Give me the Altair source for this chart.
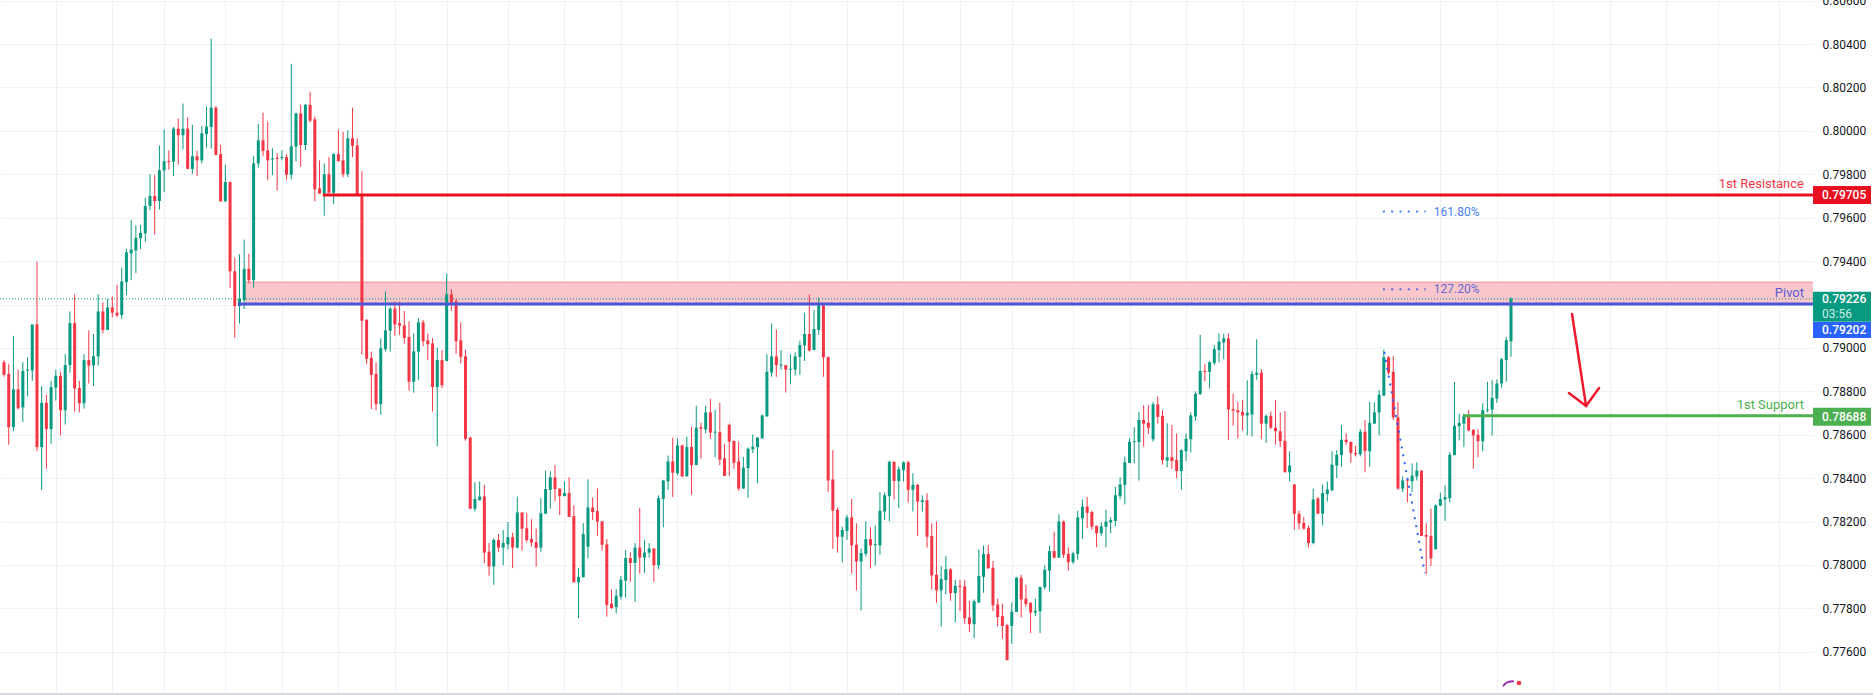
import altair as alt
import pandas as pd

# ---------------- candle data ----------------
open_ = [
0.78934,0.78880,0.78635,0.78809,0.78726,0.78896,0.78896,0.79108,0.78543,0.78747,
0.78626,0.78817,0.78871,0.78713,0.78921,0.79114,0.78815,0.78745,0.78944,0.78919,
0.78961,0.79168,0.79083,0.79187,0.79162,0.79152,0.79303,0.79436,0.79449,0.79505,
0.79528,0.79654,0.79700,0.79677,0.79818,0.79860,0.79858,0.80010,0.79980,0.80010,
0.79825,0.79883,0.79864,0.79985,0.80018,0.80107,0.79893,0.79675,0.79764,0.79353,
0.79193,0.79220,0.79364,0.79312,0.79850,0.79956,0.79910,0.79868,0.79875,0.79875,
0.79879,0.79798,0.79927,0.80080,0.79935,0.80120,0.80053,0.79735,0.79711,0.79800,
0.79715,0.79893,0.79864,0.79800,0.79966,0.79933,0.79700,0.79129,0.78954,0.78880,
0.78741,0.78994,0.79079,0.79181,0.79114,0.79104,0.79050,0.78844,0.78983,0.79118,
0.79035,0.79021,0.78820,0.78944,0.78940,0.79247,0.79214,0.79035,0.78961,0.78587,
0.78259,0.78298,0.78315,0.78061,0.77993,0.78115,0.78080,0.78095,0.78128,0.78080,
0.78242,0.78169,0.78119,0.78105,0.78080,0.78236,0.78346,0.78404,0.78352,0.78317,
0.78331,0.78225,0.77920,0.77943,0.78084,0.78265,0.78248,0.78201,0.78095,0.77822,
0.77806,0.77854,0.77928,0.78032,0.78009,0.78080,0.78034,0.78057,0.78076,0.77999,
0.78304,0.78385,0.78477,0.78423,0.78551,0.78408,0.78543,0.78460,0.78635,0.78624,
0.78703,0.78610,0.78612,0.78491,0.78645,0.78572,0.78477,0.78352,0.78446,0.78533,
0.78543,0.78583,0.78684,0.78886,0.78961,0.78919,0.78921,0.78900,0.78900,0.78959,
0.79011,0.79064,0.78990,0.79083,0.79196,0.78959,0.78394,0.78254,0.78130,0.78157,
0.78219,0.78093,0.78016,0.78051,0.78119,0.78092,0.78090,0.78246,0.78317,0.78475,
0.78387,0.78437,0.78473,0.78346,0.78369,0.78290,0.78298,0.78134,0.77955,0.77883,
0.77930,0.77980,0.77870,0.77904,0.77901,0.77758,0.77727,0.77827,0.77945,0.78051,
0.77987,0.77818,0.77764,0.77723,0.77719,0.77783,0.77941,0.77845,0.77825,0.77781,
0.77787,0.77897,0.77974,0.78064,0.78034,0.78200,0.78051,0.78013,0.78051,0.78215,
0.78269,0.78244,0.78180,0.78146,0.78176,0.78196,0.78203,0.78317,0.78369,0.78470,
0.78566,0.78566,0.78668,0.78655,0.78579,0.78740,0.78687,0.78481,0.78496,0.78483,
0.78433,0.78524,0.78579,0.78684,0.78786,0.78894,0.78890,0.78930,0.78990,0.79025,
0.79044,0.78718,0.78713,0.78705,0.78689,0.78693,0.78876,0.78886,0.78651,0.78687,
0.78632,0.78616,0.78572,0.78427,0.78371,0.78236,0.78194,0.78171,0.78101,0.78306,
0.78236,0.78327,0.78344,0.78458,0.78506,0.78577,0.78566,0.78516,0.78510,0.78614,
0.78524,0.78651,0.78703,0.78780,0.78957,0.78890,0.78680,0.78352,0.78392,0.78385,
0.78408,0.78435,0.78138,0.78134,0.78072,0.78273,0.78302,0.78308,0.78506,0.78639,
0.78651,0.78687,0.78622,0.78599,0.78570,0.78713,0.78716,0.78767,0.78836,0.78944,0.79031]

high = [
0.78944,0.78925,0.79056,0.78900,0.78934,0.78957,0.79108,0.79397,0.78824,0.78784,
0.78848,0.78900,0.78890,0.78971,0.79168,0.79247,0.78848,0.78971,0.79081,0.79064,
0.79247,0.79210,0.79226,0.79237,0.79291,0.79370,0.79457,0.79590,0.79565,0.79567,
0.79692,0.79800,0.79796,0.79933,0.80006,0.79910,0.80018,0.80057,0.80126,0.80062,
0.80028,0.79908,0.80022,0.80113,0.80425,0.80115,0.79935,0.79843,0.79767,0.79416,
0.79432,0.79499,0.79434,0.79883,0.80032,0.80084,0.80043,0.79920,0.79897,0.79910,
0.79893,0.80309,0.80084,0.80120,0.80124,0.80180,0.80066,0.79864,0.79850,0.79879,
0.79897,0.80006,0.79995,0.80003,0.80107,0.79966,0.79814,0.79133,0.78983,0.78934,
0.79044,0.79260,0.79189,0.79214,0.79214,0.79170,0.79123,0.79067,0.79137,0.79129,
0.79067,0.79046,0.79002,0.78990,0.79343,0.79270,0.79227,0.79118,0.78992,0.78591,
0.78381,0.78385,0.78369,0.78101,0.78124,0.78142,0.78161,0.78198,0.78149,0.78315,
0.78242,0.78238,0.78211,0.78167,0.78308,0.78435,0.78431,0.78460,0.78352,0.78385,
0.78404,0.78275,0.77985,0.78192,0.78394,0.78311,0.78352,0.78201,0.78119,0.77887,
0.77889,0.77949,0.78068,0.78057,0.78101,0.78263,0.78115,0.78101,0.78076,0.78321,
0.78392,0.78504,0.78587,0.78583,0.78554,0.78591,0.78637,0.78734,0.78655,0.78734,
0.78765,0.78714,0.78747,0.78558,0.78651,0.78572,0.78568,0.78498,0.78541,0.78601,
0.78587,0.78693,0.78971,0.79114,0.79085,0.78990,0.78921,0.78971,0.78979,0.79033,
0.79162,0.79247,0.79175,0.79233,0.79204,0.78959,0.78529,0.78265,0.78176,0.78230,
0.78304,0.78192,0.78076,0.78201,0.78173,0.78182,0.78335,0.78335,0.78481,0.78477,
0.78454,0.78477,0.78481,0.78423,0.78373,0.78321,0.78331,0.78192,0.78200,0.77995,
0.78041,0.77985,0.77932,0.77932,0.77932,0.77835,0.77841,0.78072,0.78090,0.78092,
0.78018,0.77845,0.77822,0.77729,0.77827,0.77945,0.77955,0.77908,0.77829,0.77845,
0.77899,0.77999,0.78088,0.78153,0.78234,0.78205,0.78082,0.78061,0.78250,0.78302,
0.78313,0.78250,0.78182,0.78196,0.78254,0.78219,0.78360,0.78404,0.78500,0.78583,
0.78635,0.78705,0.78736,0.78736,0.78751,0.78776,0.78713,0.78653,0.78645,0.78606,
0.78533,0.78605,0.78703,0.78799,0.79060,0.78925,0.78940,0.79013,0.79067,0.79065,
0.79067,0.78790,0.78751,0.78761,0.78851,0.78894,0.79040,0.78902,0.78693,0.78707,
0.78759,0.78703,0.78709,0.78524,0.78371,0.78250,0.78221,0.78182,0.78352,0.78313,
0.78371,0.78385,0.78524,0.78529,0.78645,0.78606,0.78570,0.78549,0.78626,0.78668,
0.78751,0.78749,0.78805,0.78992,0.78963,0.78963,0.78751,0.78408,0.78398,0.78468,
0.78473,0.78435,0.78192,0.78259,0.78279,0.78333,0.78367,0.78520,0.78844,0.78697,
0.78697,0.78713,0.78626,0.78626,0.78745,0.78844,0.78851,0.78855,0.78954,0.79050,0.79233]

low = [
0.78867,0.78554,0.78616,0.78716,0.78659,0.78776,0.78848,0.78524,0.78346,0.78443,
0.78558,0.78757,0.78597,0.78647,0.78886,0.78707,0.78703,0.78720,0.78836,0.78824,
0.78919,0.79067,0.79083,0.79141,0.79141,0.79133,0.79243,0.79312,0.79345,0.79455,
0.79488,0.79634,0.79522,0.79638,0.79719,0.79821,0.79792,0.79844,0.79914,0.79825,
0.79802,0.79792,0.79850,0.79922,0.79918,0.79889,0.79675,0.79675,0.79276,0.79046,
0.79112,0.79179,0.79297,0.79278,0.79831,0.79885,0.79773,0.79796,0.79725,0.79864,
0.79773,0.79777,0.79860,0.79835,0.79912,0.80039,0.79675,0.79711,0.79609,0.79715,
0.79663,0.79860,0.79787,0.79787,0.79879,0.79700,0.78969,0.78925,0.78718,0.78713,
0.78693,0.78983,0.78983,0.79056,0.79060,0.79019,0.78803,0.78794,0.78853,0.79008,
0.78944,0.78707,0.78547,0.78815,0.78940,0.79170,0.78973,0.78929,0.78572,0.78259,
0.78246,0.78298,0.78009,0.77951,0.77908,0.78061,0.77999,0.78072,0.77985,0.78076,
0.78066,0.78105,0.78084,0.77993,0.78061,0.78236,0.78259,0.78294,0.78230,0.78317,
0.78221,0.77920,0.77754,0.77943,0.78030,0.78207,0.78134,0.78066,0.77762,0.77797,
0.77777,0.77841,0.77850,0.77922,0.77829,0.77960,0.77964,0.78034,0.77922,0.77980,
0.78173,0.78346,0.78313,0.78414,0.78404,0.78408,0.78323,0.78460,0.78491,0.78606,
0.78581,0.78496,0.78460,0.78410,0.78410,0.78443,0.78342,0.78352,0.78309,0.78516,
0.78377,0.78583,0.78684,0.78867,0.78867,0.78900,0.78794,0.78832,0.78873,0.78876,
0.78940,0.78983,0.78990,0.79060,0.78867,0.78336,0.78074,0.78057,0.78011,0.78115,
0.77960,0.77883,0.77791,0.78039,0.77984,0.77997,0.78047,0.78207,0.78201,0.78302,
0.78263,0.78385,0.78288,0.78246,0.78134,0.78246,0.78080,0.77887,0.77825,0.77716,
0.77864,0.77835,0.77735,0.77787,0.77729,0.77690,0.77662,0.77827,0.77872,0.77984,
0.77787,0.77717,0.77660,0.77561,0.77636,0.77783,0.77758,0.77806,0.77686,0.77764,
0.77686,0.77887,0.77879,0.78030,0.78034,0.78032,0.77974,0.78005,0.78024,0.78120,
0.78169,0.78163,0.78082,0.78134,0.78082,0.78146,0.78178,0.78302,0.78279,0.78470,
0.78468,0.78389,0.78545,0.78603,0.78568,0.78651,0.78462,0.78450,0.78443,0.78400,
0.78346,0.78479,0.78518,0.78664,0.78786,0.78846,0.78813,0.78921,0.78934,0.78948,
0.78576,0.78641,0.78583,0.78620,0.78597,0.78591,0.78853,0.78581,0.78562,0.78626,
0.78554,0.78543,0.78427,0.78385,0.78163,0.78163,0.78163,0.78080,0.78095,0.78236,
0.78182,0.78292,0.78340,0.78400,0.78452,0.78554,0.78471,0.78500,0.78500,0.78427,
0.78452,0.78651,0.78597,0.78780,0.78876,0.78668,0.78346,0.78336,0.78288,0.78336,
0.78389,0.78134,0.77957,0.77995,0.78072,0.78273,0.78203,0.78288,0.78506,0.78574,
0.78543,0.78616,0.78443,0.78496,0.78524,0.78703,0.78597,0.78747,0.78817,0.78844,0.78959]

close = [
0.78876,0.78635,0.78809,0.78722,0.78894,0.78900,0.79108,0.78543,0.78747,0.78626,
0.78819,0.78871,0.78713,0.78921,0.79114,0.78813,0.78745,0.78944,0.78919,0.78961,
0.79168,0.79083,0.79187,0.79162,0.79150,0.79306,0.79440,0.79453,0.79507,0.79530,
0.79654,0.79700,0.79677,0.79819,0.79860,0.79856,0.80010,0.79980,0.80010,0.79825,
0.79883,0.79864,0.79989,0.80020,0.80107,0.79889,0.79675,0.79764,0.79353,0.79193,
0.79226,0.79364,0.79312,0.79850,0.79956,0.79908,0.79864,0.79873,0.79871,0.79879,
0.79798,0.79929,0.80080,0.79935,0.80120,0.80047,0.79731,0.79711,0.79800,0.79715,
0.79893,0.79860,0.79800,0.79966,0.79931,0.79700,0.79125,0.78950,0.78876,0.78741,
0.78998,0.79081,0.79181,0.79108,0.79102,0.79046,0.78844,0.78984,0.79118,0.79031,
0.79017,0.78820,0.78944,0.78828,0.79247,0.79210,0.79031,0.78959,0.78581,0.78259,
0.78304,0.78315,0.78057,0.77993,0.78115,0.78080,0.78101,0.78128,0.78080,0.78242,
0.78167,0.78115,0.78103,0.78078,0.78238,0.78350,0.78404,0.78350,0.78317,0.78331,
0.78221,0.77920,0.77945,0.78142,0.78265,0.78244,0.78200,0.78093,0.77816,0.77802,
0.77858,0.77932,0.78032,0.78009,0.78080,0.78034,0.78057,0.78076,0.77999,0.78308,
0.78389,0.78477,0.78425,0.78551,0.78408,0.78543,0.78460,0.78632,0.78628,0.78703,
0.78610,0.78614,0.78485,0.78410,0.78568,0.78471,0.78352,0.78448,0.78535,0.78545,
0.78587,0.78689,0.78890,0.78961,0.78921,0.78923,0.78900,0.78904,0.78961,0.79013,
0.79064,0.78988,0.79087,0.79196,0.78956,0.78389,0.78250,0.78130,0.78161,0.78219,
0.78090,0.78016,0.78055,0.78119,0.78090,0.78095,0.78250,0.78321,0.78475,0.78387,
0.78441,0.78473,0.78346,0.78369,0.78292,0.78298,0.78130,0.77951,0.77883,0.77935,
0.77980,0.77870,0.77904,0.77899,0.77754,0.77727,0.77833,0.77949,0.78051,0.77984,
0.77814,0.77760,0.77719,0.77561,0.77785,0.77941,0.77841,0.77820,0.77781,0.77789,
0.77899,0.77978,0.78064,0.78034,0.78200,0.78047,0.78013,0.78053,0.78219,0.78269,
0.78240,0.78176,0.78146,0.78178,0.78200,0.78207,0.78321,0.78371,0.78473,0.78568,
0.78570,0.78668,0.78651,0.78632,0.78740,0.78682,0.78483,0.78496,0.78479,0.78433,
0.78529,0.78581,0.78689,0.78788,0.78894,0.78890,0.78934,0.78994,0.79029,0.79044,
0.78716,0.78711,0.78703,0.78689,0.78701,0.78880,0.78886,0.78651,0.78687,0.78632,
0.78616,0.78570,0.78427,0.78458,0.78236,0.78192,0.78167,0.78101,0.78302,0.78236,
0.78331,0.78348,0.78462,0.78508,0.78577,0.78566,0.78516,0.78510,0.78614,0.78525,
0.78655,0.78703,0.78784,0.78957,0.78886,0.78680,0.78352,0.78389,0.78389,0.78412,
0.78435,0.78134,0.78130,0.78030,0.78275,0.78304,0.78313,0.78508,0.78641,0.78655,
0.78687,0.78620,0.78597,0.78570,0.78713,0.78716,0.78770,0.78836,0.78948,0.79035,0.79226]

# price-axis ticks and time grid (candle index of each vertical grid line)
price_ticks = [0.776, 0.778, 0.780, 0.782, 0.784, 0.786, 0.788, 0.790,
               0.792, 0.794, 0.796, 0.798, 0.800, 0.802, 0.804, 0.806]
grid_idx = [12, 24, 35, 48, 60, 72, 84, 95, 108, 120, 132, 144, 155, 168, 180,
            192, 204, 215, 228, 240, 252, 264, 275, 288, 306, 318, 330, 342, 354, 365, 378]

# levels
resistance = 0.79705
pivot = 0.79202
support = 0.78688
last_price = 0.79226
zone_top = 0.79303
res_start, piv_start, zone_start, sup_start = 68.7, 50.7, 52.2, 310.8

# fib labels
fib_labels = ["161.80%", "127.20%"]
fib_prices = [0.79628, 0.79270]
fib_colors = ["#4a7ef5", "#6468d6"]
fib_x0, fib_x1, fib_tx = 293.8, 302.9, 304.6

# drawn arrow (index, price)
arrow_x = [333.96, 336.94, 333.3, 336.94, 339.7]
arrow_y = [0.79156, 0.78732, 0.78792, 0.78732, 0.78815]
arrow_seg = [0, 0, 1, 1, 1]
# dotted trend line
trend_x = [294.1, 302.7]
trend_y = [0.78981, 0.77963]
# tiny icon at bottom
icon_x = [319.3, 320.3, 321.6]
icon_y = [0.77442, 0.77460, 0.77464]
icon_dot = (322.7, 0.77456)

# ---------------- layout ----------------
W, H = 1813, 693
X_MIN, X_MAX = 0.15, 385.13
Y_MIN, Y_MAX = 0.77410, 0.80603
U = (Y_MAX - Y_MIN) / H  # price per pixel
FONT = "Roboto"
GREEN, RED = "#089981", "#f23645"
GRID = "#eff0f3"

n = len(close)
df = pd.DataFrame({"idx": list(range(1, n + 1)), "open": open_, "high": high,
                   "low": low, "close": close})
df["dir"] = ["up" if c >= o else "down" for o, c in zip(open_, close)]
top = df[["open", "close"]].max(axis=1)
bot = df[["open", "close"]].min(axis=1)
mid = (top + bot) / 2
small = (top - bot) < U
df["btop"] = top.where(~small, mid + U / 2)
df["bbot"] = bot.where(~small, mid - U / 2)
df["x0"] = df["idx"] - 0.32
df["x1"] = df["idx"] + 0.32

xs = alt.Scale(domain=[X_MIN, X_MAX], nice=False, zero=False)
ys = alt.Scale(domain=[Y_MIN, Y_MAX], nice=False, zero=False)
x_axis = alt.Axis(values=grid_idx, labels=False, ticks=False, domain=False,
                  grid=True, gridColor=GRID, gridWidth=1, title=None)
y_axis = alt.Axis(orient="right", values=price_ticks, format=".5f", labelFont=FONT,
                  labelFontSize=12, labelColor="#131722", ticks=False, domain=False,
                  labelPadding=9, grid=True, gridColor=GRID, gridWidth=1, title=None,
                  labelOverlap=False, labelFlush=False)


def X(f):
    return alt.X(f, type="quantitative", scale=xs, axis=x_axis)


def Y(f):
    return alt.Y(f, type="quantitative", scale=ys, axis=y_axis)


dir_color = alt.Color("dir:N", scale=alt.Scale(domain=["up", "down"], range=[GREEN, RED]), legend=None)

zone_df = pd.DataFrame({"x0": [zone_start], "x1": [X_MAX], "lo": [pivot], "hi": [zone_top]})
zone = alt.Chart(zone_df).mark_rect(color="#f9c6cb").encode(
    x=X("x0"), x2=alt.X2("x1"), y=Y("lo"), y2=alt.Y2("hi"))
zone_edge = alt.Chart(zone_df).mark_rule(color="#f48a93", strokeWidth=1).encode(
    x=X("x0"), x2=alt.X2("x1"), y=Y("hi"))

last_df = pd.DataFrame({"x0": [X_MIN], "x1": [X_MAX], "p": [last_price]})
last_line = alt.Chart(last_df).mark_rule(color=GREEN, strokeWidth=1, strokeDash=[1, 2]).encode(
    x=X("x0"), x2=alt.X2("x1"), y=Y("p"))

wicks = alt.Chart(df).mark_rule(strokeWidth=1).encode(
    x=X("idx"), y=Y("low"), y2=alt.Y2("high"), color=dir_color)
bodies = alt.Chart(df).mark_rect().encode(
    x=X("x0"), x2=alt.X2("x1"), y=Y("bbot"), y2=alt.Y2("btop"), color=dir_color)


def level(price, start, color, width=3):
    d = pd.DataFrame({"x0": [start], "x1": [X_MAX], "p": [price]})
    return alt.Chart(d).mark_rule(color=color, strokeWidth=width).encode(
        x=X("x0"), x2=alt.X2("x1"), y=Y("p"))


res_line = level(resistance, res_start, "#e8101f")
piv_line = level(pivot, piv_start, "#4a55d8")
sup_line = level(support, sup_start, "#4caf50")


def right_label(text, price, color):
    d = pd.DataFrame({"t": [text], "p": [price]})
    return alt.Chart(d).mark_text(align="right", baseline="middle", font=FONT, fontSize=13,
                                  color=color, dy=-11).encode(
        x=alt.value(1804), y=Y("p"), text="t:N")


lab_res = right_label("1st Resistance", resistance, "#f23645")
lab_piv = right_label("Pivot", pivot, "#5b5fd6")
lab_sup = right_label("1st Support", support, "#4caf50")

fib_df = pd.DataFrame({"t": fib_labels, "p": fib_prices, "c": fib_colors,
                       "x0": [fib_x0] * 2, "x1": [fib_x1] * 2, "tx": [fib_tx] * 2})
fib_dots = alt.Chart(fib_df).mark_rule(strokeWidth=2, strokeDash=[2, 6.3]).encode(
    x=X("x0"), x2=alt.X2("x1"), y=Y("p"), color=alt.Color("c:N", scale=None))
fib_text = alt.Chart(fib_df).mark_text(align="left", baseline="middle", font=FONT, fontSize=12).encode(
    x=X("tx"), y=Y("p"), text="t:N", color=alt.Color("c:N", scale=None))

trend_df = pd.DataFrame({"x": trend_x, "y": trend_y})
trend = alt.Chart(trend_df).mark_line(color="#2962ff", strokeWidth=2, strokeDash=[2, 6]).encode(
    x=X("x"), y=Y("y"))

arrow_df = pd.DataFrame({"x": arrow_x, "y": arrow_y, "seg": arrow_seg,
                         "o": list(range(len(arrow_x)))})
arrow = alt.Chart(arrow_df).mark_line(color="#f0192c", strokeWidth=2.5, strokeCap="round",
                                      strokeJoin="round").encode(
    x=X("x"), y=Y("y"), detail="seg:N", order="o:Q")

icon_df = pd.DataFrame({"x": icon_x, "y": icon_y})
icon_arc = alt.Chart(icon_df).mark_line(color="#9c27b0", strokeWidth=2, interpolate="monotone").encode(
    x=X("x"), y=Y("y"))
icon_pt = alt.Chart(pd.DataFrame({"x": [icon_dot[0]], "y": [icon_dot[1]]})).mark_point(
    filled=True, color="#f23645", size=22, opacity=1).encode(x=X("x"), y=Y("y"))

# price tags on the axis
tag_text = ["0.79705", "0.79226", "0.79202", "0.78688"]
tag_price = [resistance, last_price, pivot, support]
tag_color = ["#e8101f", GREEN, "#2962ff", "#4caf50"]
tag_top_px = [-9, -7, 18, -8]
tag_bot_px = [9, 23, 34, 10]
tag_text_px = [0, 0.5, 26, 1.5]
tags = pd.DataFrame({"t": tag_text, "p": tag_price, "c": tag_color})
tags["hi"] = [p - a * U for p, a in zip(tag_price, tag_top_px)]
tags["lo"] = [p - b * U for p, b in zip(tag_price, tag_bot_px)]
tags["ty"] = [p - d * U for p, d in zip(tag_price, tag_text_px)]
tag_boxes = alt.Chart(tags).mark_rect().encode(
    x=alt.value(1813), x2=alt.value(1871), y=Y("hi"), y2=alt.Y2("lo"),
    color=alt.Color("c:N", scale=None))
tag_labels = alt.Chart(tags).mark_text(align="left", baseline="middle", font=FONT, fontSize=12,
                                       fontWeight=500, color="white").encode(
    x=alt.value(1822), y=Y("ty"), text="t:N")
timer_df = pd.DataFrame({"t": ["03:56"], "p": [last_price - 15.5 * U]})
timer = alt.Chart(timer_df).mark_text(align="left", baseline="middle", font=FONT, fontSize=12,
                                      color="#cdebe5").encode(
    x=alt.value(1822), y=Y("p"), text="t:N")

bottom_border = alt.Chart(pd.DataFrame({"a": [0]})).mark_rule(color="#d6d8de", strokeWidth=2).encode(
    x=alt.value(0), x2=alt.value(1873), y=alt.value(694))

chart = alt.layer(
    zone, zone_edge, last_line, wicks, bodies, res_line, piv_line, sup_line,
    lab_res, lab_piv, lab_sup, fib_dots, fib_text, trend, arrow, icon_arc, icon_pt,
    tag_boxes, tag_labels, timer, bottom_border
).properties(
    width=W, height=H,
    autosize=alt.AutoSizeParams(type="none"),
    padding={"left": 0, "top": 0, "right": 60, "bottom": 2},
    background="white",
).configure_view(stroke=None)

chart.save("out.html", embed_options={"renderer": "svg", "actions": False})
